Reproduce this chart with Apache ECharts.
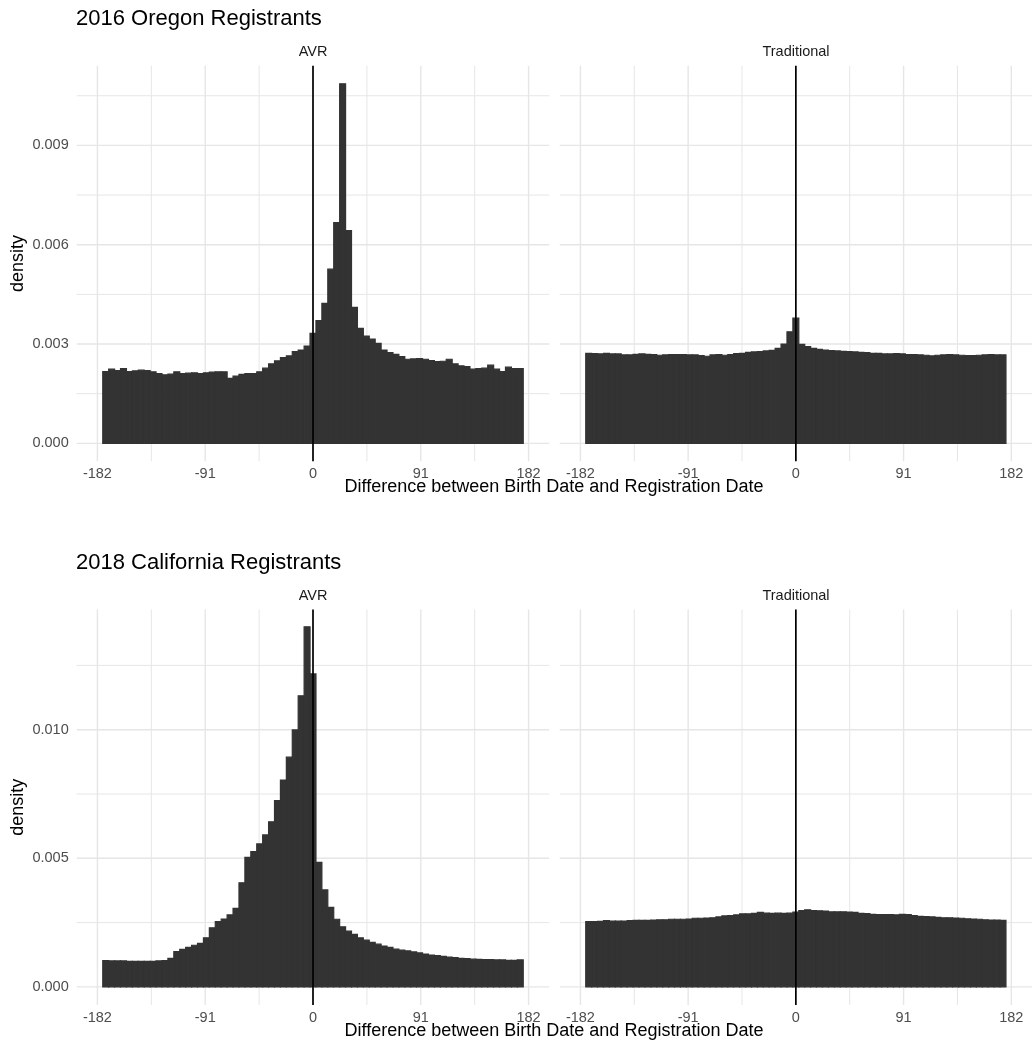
<!DOCTYPE html>
<html>
<head>
<meta charset="utf-8">
<title>Birth date vs registration date</title>
<script src="https://cdn.jsdelivr.net/npm/echarts@6/dist/echarts.min.js"></script>
<style>
    html, body { margin: 0; padding: 0; background: #fff; }
    #chart { width: 1032px; height: 1052px; }
</style>
</head>
<body>
<div id="chart"></div>
<script>
var BIN_WIDTH = 5;
var binCenters = [-175, -170, -165, -160, -155, -150, -145, -140, -135, -130, -125, -120, -115, -110, -105, -100,
    -95, -90, -85, -80, -75, -70, -65, -60, -55, -50, -45, -40, -35, -30, -25, -20, -15, -10, -5,
    0, 5, 10, 15, 20, 25, 30, 35, 40, 45, 50, 55, 60, 65, 70, 75, 80, 85, 90, 95, 100, 105, 110,
    115, 120, 125, 130, 135, 140, 145, 150, 155, 160, 165, 170, 175];

// density per bin
var oregonAVR = [0.00217, 0.00224, 0.00220, 0.00226, 0.00217, 0.00219, 0.00221, 0.00220, 0.00216, 0.00211,
    0.00207, 0.00209, 0.00216, 0.00211, 0.00212, 0.00213, 0.00211, 0.00213, 0.00215, 0.00216,
    0.00216, 0.00196, 0.00203, 0.00208, 0.00211, 0.00211, 0.00216, 0.00227, 0.00240, 0.00249,
    0.00259, 0.00264, 0.00277, 0.00282, 0.00294, 0.00332, 0.00371, 0.00423, 0.00526, 0.00667,
    0.01086, 0.00643, 0.00411, 0.00347, 0.00324, 0.00315, 0.00302, 0.00282, 0.00274, 0.00269,
    0.00262, 0.00254, 0.00255, 0.00256, 0.00254, 0.00250, 0.00247, 0.00248, 0.00254, 0.00240,
    0.00234, 0.00232, 0.00224, 0.00226, 0.00227, 0.00236, 0.00224, 0.00217, 0.00230, 0.00226, 0.00226];
var oregonTraditional = [0.00272, 0.00271, 0.00270, 0.00272, 0.00270, 0.00270, 0.00267, 0.00267, 0.00269, 0.00270,
    0.00269, 0.00268, 0.00266, 0.00267, 0.00268, 0.00268, 0.00268, 0.00267, 0.00267, 0.00265,
    0.00263, 0.00267, 0.00268, 0.00266, 0.00268, 0.00271, 0.00272, 0.00275, 0.00276, 0.00277,
    0.00279, 0.00281, 0.00287, 0.00300, 0.00337, 0.00378, 0.00299, 0.00292, 0.00287, 0.00284,
    0.00282, 0.00280, 0.00279, 0.00278, 0.00277, 0.00276, 0.00275, 0.00274, 0.00272, 0.00272,
    0.00270, 0.00270, 0.00271, 0.00270, 0.00268, 0.00268, 0.00267, 0.00266, 0.00264, 0.00266,
    0.00267, 0.00268, 0.00267, 0.00266, 0.00265, 0.00265, 0.00266, 0.00267, 0.00268, 0.00267, 0.00267];
var californiaAVR = [0.00102, 0.00101, 0.00101, 0.00101, 0.00099, 0.00099, 0.00099, 0.00099, 0.00099, 0.00101,
    0.00102, 0.00111, 0.00137, 0.00146, 0.00154, 0.00162, 0.00169, 0.00191, 0.00230, 0.00254,
    0.00264, 0.00280, 0.00305, 0.00405, 0.00504, 0.00526, 0.00556, 0.00591, 0.00642, 0.00724,
    0.00804, 0.00893, 0.00999, 0.01132, 0.01400, 0.01217, 0.00484, 0.00377, 0.00309, 0.00263,
    0.00234, 0.00217, 0.00204, 0.00191, 0.00182, 0.00173, 0.00166, 0.00159, 0.00154, 0.00147,
    0.00143, 0.00140, 0.00136, 0.00132, 0.00128, 0.00124, 0.00122, 0.00119, 0.00116, 0.00114,
    0.00111, 0.00110, 0.00108, 0.00107, 0.00106, 0.00106, 0.00105, 0.00105, 0.00103, 0.00103, 0.00105];
var californiaTraditional = [0.00254, 0.00254, 0.00255, 0.00258, 0.00256, 0.00256, 0.00256, 0.00258, 0.00259, 0.00259,
    0.00259, 0.00260, 0.00261, 0.00261, 0.00263, 0.00263, 0.00263, 0.00264, 0.00267, 0.00267,
    0.00268, 0.00269, 0.00272, 0.00276, 0.00277, 0.00280, 0.00284, 0.00284, 0.00286, 0.00290,
    0.00287, 0.00286, 0.00287, 0.00286, 0.00287, 0.00291, 0.00297, 0.00300, 0.00297, 0.00296,
    0.00295, 0.00292, 0.00292, 0.00292, 0.00291, 0.00290, 0.00286, 0.00285, 0.00282, 0.00281,
    0.00281, 0.00281, 0.00280, 0.00282, 0.00281, 0.00277, 0.00274, 0.00273, 0.00272, 0.00270,
    0.00269, 0.00269, 0.00268, 0.00267, 0.00265, 0.00264, 0.00263, 0.00261, 0.00260, 0.00260, 0.00259];

var facetNames = ['AVR', 'Traditional'];
var xTicks = [-182, -91, 0, 91, 182];
var xMinorTicks = [-136.5, -45.5, 45.5, 136.5];
var oregonYTicks = [0, 0.003, 0.006, 0.009];
var oregonYMinor = [0.0015, 0.0045, 0.0075, 0.0105];
var californiaYTicks = [0, 0.005, 0.010];
var californiaYMinor = [0.0025, 0.0075, 0.0125];

var FONT = '"Liberation Sans", Arial, Helvetica, sans-serif';
var BAR_COLOR = '#333333';
var GRID_COLOR = '#e6e6e6';
var X_MIN = -199.5, X_MAX = 199.5;
var PANEL_LEFT = [76.7, 559.7];
var PANEL_WIDTH = 472.6;

var rows = [
    {
        title: '2016 Oregon Registrants', top: 65.7, height: 395.6,
        yMin: -0.000543, yMax: 0.011408,
        yTicks: oregonYTicks, yMinor: oregonYMinor,
        values: [oregonAVR, oregonTraditional]
    },
    {
        title: '2018 California Registrants', top: 609.5, height: 395.4,
        yMin: -0.000699, yMax: 0.014673,
        yTicks: californiaYTicks, yMinor: californiaYMinor,
        values: [californiaAVR, californiaTraditional]
    }
];

function tickPairs(major, minor) {
    var out = [];
    major.forEach(function (v) { out.push([v, 1]); });
    minor.forEach(function (v) { out.push([v, 0]); });
    return out;
}

var grids = [], xAxes = [], yAxes = [], series = [], graphics = [];

rows.forEach(function (row, r) {
    graphics.push({
        type: 'text', x: 76, y: row.top - 46.5,
        style: {text: row.title, font: '22px ' + FONT, fill: '#000', align: 'left', verticalAlign: 'middle'}
    });
    graphics.push({
        type: 'text', x: 554, y: row.top + row.height + 26,
        style: {text: 'Difference between Birth Date and Registration Date', font: '18px ' + FONT,
            fill: '#000', align: 'center', verticalAlign: 'middle'}
    });
    graphics.push({
        type: 'text', x: 18.5, y: row.top + row.height / 2, rotation: Math.PI / 2,
        style: {text: 'density', font: '18px ' + FONT, fill: '#000', align: 'center', verticalAlign: 'middle'}
    });

    row.values.forEach(function (vals, c) {
        var idx = grids.length;
        grids.push({left: PANEL_LEFT[c], top: row.top, width: PANEL_WIDTH, height: row.height});

        graphics.push({
            type: 'text', x: PANEL_LEFT[c] + PANEL_WIDTH / 2, y: row.top - 13.5,
            style: {text: facetNames[c], font: '14.5px ' + FONT, fill: '#1a1a1a', align: 'center', verticalAlign: 'middle'}
        });

        xAxes.push({
            gridIndex: idx, type: 'value', min: X_MIN, max: X_MAX,
            axisLine: {show: false}, axisTick: {show: false, customValues: xTicks},
            splitLine: {show: false},
            axisLabel: {customValues: xTicks, color: '#4d4d4d', fontSize: 14.5, fontFamily: FONT, margin: 5.5}
        });
        yAxes.push({
            gridIndex: idx, type: 'value', min: row.yMin, max: row.yMax,
            axisLine: {show: false}, axisTick: {show: false, customValues: row.yTicks},
            splitLine: {show: false},
            axisLabel: {
                show: c === 0, customValues: row.yTicks, color: '#4d4d4d', fontSize: 14.5,
                fontFamily: FONT, margin: 8,
                formatter: function (v) { return v.toFixed(3); }
            }
        });

        // background grid
        series.push({
            type: 'custom', xAxisIndex: idx, yAxisIndex: idx, silent: true, z: 1,
            data: tickPairs(xTicks, xMinorTicks),
            renderItem: function (params, api) {
                var x = api.value(0);
                var a = api.coord([x, row.yMax]);
                var b = api.coord([x, row.yMin]);
                return {type: 'line', shape: {x1: a[0], y1: a[1], x2: b[0], y2: b[1]},
                    style: {stroke: GRID_COLOR, lineWidth: api.value(1) ? 1.4 : 1.0}};
            }
        });
        series.push({
            type: 'custom', xAxisIndex: idx, yAxisIndex: idx, silent: true, z: 1,
            data: tickPairs(row.yTicks, row.yMinor),
            renderItem: function (params, api) {
                var y = api.value(0);
                var a = api.coord([X_MIN, y]);
                var b = api.coord([X_MAX, y]);
                return {type: 'line', shape: {x1: a[0], y1: a[1], x2: b[0], y2: b[1]},
                    style: {stroke: GRID_COLOR, lineWidth: api.value(1) ? 1.4 : 1.0}};
            }
        });

        // histogram bars (stroke of same colour hides seams between neighbours)
        series.push({
            type: 'custom', xAxisIndex: idx, yAxisIndex: idx, silent: true, z: 2,
            data: binCenters.map(function (x, i) { return [x, vals[i]]; }),
            renderItem: function (params, api) {
                var x = api.value(0), d = api.value(1);
                var p0 = api.coord([x - BIN_WIDTH / 2, d]);
                var p1 = api.coord([x + BIN_WIDTH / 2, 0]);
                return {type: 'rect',
                    shape: {x: p0[0], y: p0[1], width: p1[0] - p0[0], height: p1[1] - p0[1]},
                    style: {fill: BAR_COLOR, stroke: BAR_COLOR, lineWidth: 1.2}};
            }
        });

        // reference line at zero
        series.push({
            type: 'custom', xAxisIndex: idx, yAxisIndex: idx, silent: true, z: 3,
            data: [[0]],
            renderItem: function (params, api) {
                var a = api.coord([api.value(0), row.yMax]);
                var b = api.coord([api.value(0), row.yMin]);
                return {type: 'line', shape: {x1: a[0], y1: a[1], x2: b[0], y2: b[1]},
                    style: {stroke: '#000', lineWidth: 1.7}};
            }
        });
    });
});

var myChart = echarts.init(document.getElementById('chart'));
var option = {
    animation: false,
    backgroundColor: '#fff',
    grid: grids,
    xAxis: xAxes,
    yAxis: yAxes,
    series: series,
    graphic: graphics
};
myChart.setOption(option);
</script>
</body>
</html>
